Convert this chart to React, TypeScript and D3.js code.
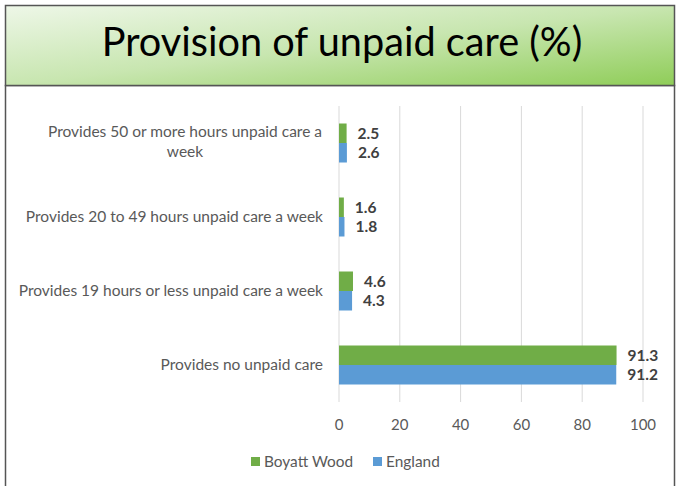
import React from "react";
import * as d3 from "d3";

const categories = [
  "Provides 50 or more hours unpaid care a week",
  "Provides 20 to 49 hours unpaid care a week",
  "Provides 19 hours or less unpaid care a week",
  "Provides no unpaid care",
];
const categoryLines = [
  ["Provides 50 or more hours unpaid care a", "week"],
  ["Provides 20 to 49 hours unpaid care a week"],
  ["Provides 19 hours or less unpaid care a week"],
  ["Provides no unpaid care"],
];
const seriesNames = ["Boyatt Wood", "England"];
const boyattWood = [2.5, 1.6, 4.6, 91.3];
const england = [2.6, 1.8, 4.3, 91.2];
const xTicks = [0, 20, 40, 60, 80, 100];
const title = "Provision of unpaid care (%)";

const colors = ["#70ad47", "#5b9bd5"];
const FONT = "Lato, 'Open Sans', sans-serif";

export default function App() {
  const W = 680, H = 486;
  const x = d3.scaleLinear().domain([0, 100]).range([339, 643]);
  const y = d3.scaleBand<string>().domain(categories).range([106, 402]).paddingInner(0.473).paddingOuter(0.2365);
  const sub = d3.scaleBand<string>().domain(seriesNames).range([0, y.bandwidth()]);
  const series = [boyattWood, england];

  return (
    <svg width={W} height={H} style={{ position: "absolute", left: 0, top: 0 }}>
      <defs>
        <linearGradient id="tg" x1="0" y1="0" x2="1" y2="1">
          <stop offset="0" stopColor="#eef7e8" />
          <stop offset="0.5" stopColor="#c8e6b0" />
          <stop offset="1" stopColor="#8fcd58" />
        </linearGradient>
      </defs>
      <rect x={0} y={0} width={W} height={H} fill="#fff" />
      {/* outer frame */}
      <path d={`M5.5,${H} V85.5 H674.5 V${H}`} fill="none" stroke="#555" strokeWidth={1.5} />
      <rect x={5.5} y={5.5} width={669} height={80} fill="url(#tg)" stroke="#555" strokeWidth={1.5} />
      <text x={342} y={56} textAnchor="middle" fontFamily={FONT} fontSize={39.7} fill="#000">{title}</text>

      {/* gridlines */}
      {xTicks.map((t) => (
        <line key={t} x1={x(t)} x2={x(t)} y1={106} y2={402} stroke="#d9d9d9" strokeWidth={1} />
      ))}
      {xTicks.map((t) => (
        <text key={"l" + t} x={x(t)} y={425} dy="0.35em" textAnchor="middle" fontFamily={FONT} fontSize={15} fill="#595959">{t}</text>
      ))}

      {/* bars */}
      {series.map((vals, si) =>
        vals.map((v, ci) => {
          const yy = (y(categories[ci]) as number) + (sub(seriesNames[si]) as number);
          return (
            <g key={si + "-" + ci}>
              <rect x={x(0)} y={yy} width={x(v) - x(0)} height={sub.bandwidth()} fill={colors[si]} />
              <text x={x(v) + 11} y={yy + sub.bandwidth() / 2} dy="0.35em" fontFamily={FONT} fontWeight="bold" fontSize={15.5} fill="#404040">{v.toFixed(1)}</text>
            </g>
          );
        })
      )}

      {/* category labels */}
      {categoryLines.map((lines, ci) => {
        const cy = (y(categories[ci]) as number) + y.bandwidth() / 2;
        const n = lines.length;
        const lh = 20;
        return lines.map((ln, li) => {
          const yy = cy + (li - (n - 1) / 2) * lh - (n > 1 ? 1 : 0);
          if (n > 1) {
            return (
              <text key={ci + "-" + li} x={185} y={yy} dy="0.35em" textAnchor="middle" fontFamily={FONT} fontSize={15.5} fill="#595959">{ln}</text>
            );
          }
          return (
            <text key={ci + "-" + li} x={323} y={yy} dy="0.35em" textAnchor="end" fontFamily={FONT} fontSize={15.5} fill="#595959">{ln}</text>
          );
        });
      })}

      {/* legend */}
      {seriesNames.map((s, i) => {
        const lx = [251, 373][i];
        return (
          <g key={s}>
            <rect x={lx} y={457} width={9} height={9} fill={colors[i]} />
            <text x={lx + 13} y={462} dy="0.35em" fontFamily={FONT} fontSize={15.4} fill="#595959">{s}</text>
          </g>
        );
      })}
    </svg>
  );
}
